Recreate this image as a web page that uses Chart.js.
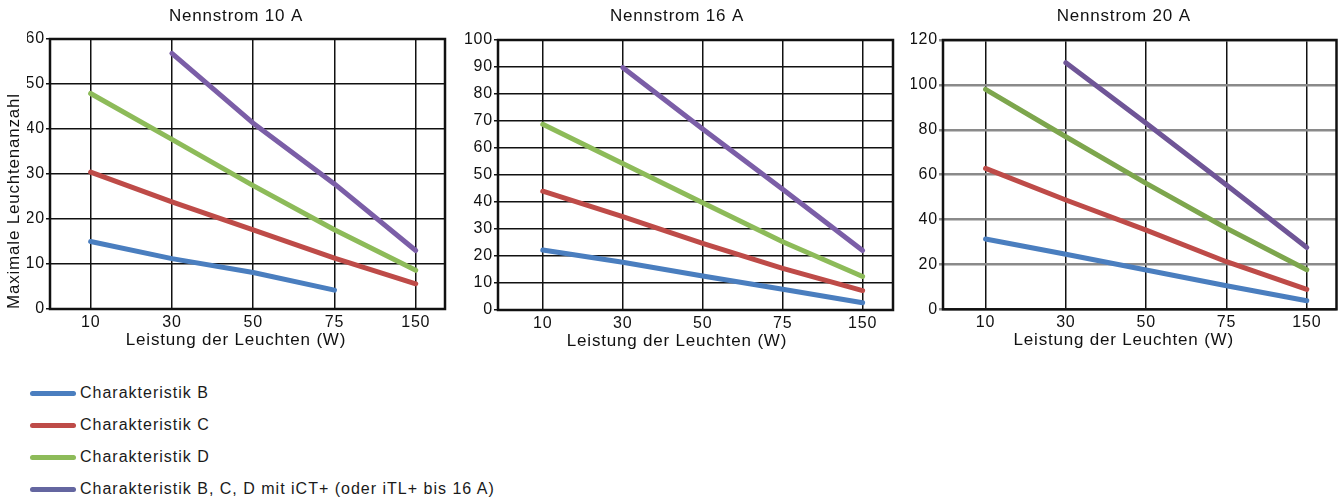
<!DOCTYPE html>
<html>
<head>
<meta charset="utf-8">
<script src="https://cdn.jsdelivr.net/npm/chart.js@4.4.1/dist/chart.umd.min.js"></script>
<style>
  body { margin: 0; background: #fff; width: 1338px; height: 500px; position: relative; overflow: hidden;
         font-family: "Liberation Sans", Arial, sans-serif; }
  canvas { position: absolute; top: 0; }
  #legend { position: absolute; left: 30px; top: 383px; }
  .row { display: flex; align-items: center; height: 20px; margin-bottom: 12px; color: #1a1a1a;
         font-size: 16px; letter-spacing: 1px; }
  .swatch { width: 46px; height: 5px; border-radius: 3px; margin-right: 4px; }
</style>
</head>
<body>
<canvas id="c10" width="460" height="360" style="left:0px"></canvas>
<canvas id="c16" width="460" height="360" style="left:440px"></canvas>
<canvas id="c20" width="458" height="360" style="left:880px"></canvas>
<div id="legend"></div>

<script>
// x categories (lamp power in W)
const watts = ['10', '30', '50', '75', '150'];
const wattIdx = [0, 1, 2, 3, 4];

const seriesNames = [
  'Charakteristik B',
  'Charakteristik C',
  'Charakteristik D',
  'Charakteristik B, C, D mit iCT+ (oder iTL+ bis 16 A)'
];

// Nennstrom 10 A
const a10_B = [15, 11.2, 8.1, 4.2, null];
const a10_C = [30.4, 23.8, 17.6, 11.3, 5.6];
const a10_D = [47.9, 37.7, 27.4, 17.6, 8.6];
const a10_iCT = [null, 56.8, 41.3, 27.8, 13];

// Nennstrom 16 A
const a16_B = [22.2, 17.7, 12.6, 7.7, 2.7];
const a16_C = [44, 34.6, 24.7, 15.4, 7.2];
const a16_D = [68.8, 54.3, 39.7, 25.3, 12.4];
const a16_iCT = [null, 89.8, 67, 44.7, 22];

// Nennstrom 20 A
const a20_B = [31.3, 24.5, 17.5, 10.5, 3.8];
const a20_C = [62.8, 48.7, 35.3, 21.2, 8.9];
const a20_D = [98, 76.9, 56.1, 36.1, 17.6];
const a20_iCT = [null, 109.9, 82.9, 55.4, 27.5];

const yTitle = 'Maximale Leuchtenanzahl';
const xTitle = 'Leistung der Leuchten (W)';

const lineColors = ['#4a7ebf', '#be4b48', '#8dbb59', '#7b5ea7'];
const lineColors20 = ['#4a7ebf', '#be4b48', '#7da64d', '#6f5597'];
const legendColors = ['#4a7ebf', '#be4b48', '#8dbb59', '#6466a0'];

const FONT = '"Liberation Sans", Arial, sans-serif';
Chart.defaults.font.family = FONT;
Chart.defaults.font.size = 16;
Chart.defaults.color = '#1a1a1a';

// wider tracking like the original artwork
const spacing = {
  id: 'spacing',
  beforeLayout(c) { c.ctx.letterSpacing = '0.8px'; },
  beforeDraw(c) { c.ctx.letterSpacing = '0.8px'; }
};

// black frame round the plot area
const frame = {
  id: 'frame',
  beforeDatasetsDraw(c) {
    const { left, top, right, bottom } = c.chartArea;
    const ctx = c.ctx;
    ctx.save();
    ctx.strokeStyle = '#111';
    ctx.lineWidth = 2.5;
    ctx.strokeRect(left, top, right - left, bottom - top);
    ctx.restore();
  }
};

function buildChart(id, cfg) {
  return new Chart(document.getElementById(id), {
    type: 'line',
    data: {
      datasets: cfg.values.map((vals, i) => ({
        label: seriesNames[i],
        data: vals.map((v, k) => ({ x: wattIdx[k], y: v })),
        borderColor: cfg.colors[i],
        borderWidth: 5,
        borderCapStyle: 'round',
        borderJoinStyle: 'round',
        pointRadius: 0,
        tension: 0,
        fill: false
      }))
    },
    options: {
      responsive: false,
      animation: false,
      layout: { padding: { left: cfg.padLeft, right: cfg.padRight, top: 0, bottom: cfg.padBottom } },
      plugins: {
        legend: { display: false },
        tooltip: { enabled: false },
        title: {
          display: true, text: cfg.title, color: '#111',
          font: { size: 17, weight: 'normal' },
          padding: { top: 6, bottom: cfg.titleGap }
        },
        subtitle: {
          display: true, position: 'bottom', text: xTitle, color: '#111',
          font: { size: 17, weight: 'normal' },
          padding: { top: 1, bottom: 4 }
        }
      },
      scales: {
        x: {
          type: 'linear',
          min: cfg.xMin, max: cfg.xMax,
          afterBuildTicks: s => { s.ticks = wattIdx.map(v => ({ value: v })); },
          afterFit: s => { s.height = 20; },
          ticks: { callback: v => watts[v], padding: 4, maxRotation: 0, autoSkip: false, color: '#111' },
          grid: { color: '#111', lineWidth: 1.5, drawTicks: false },
          border: { display: false }
        },
        y: {
          min: 0, max: cfg.yMax,
          afterFit: s => { s.width = cfg.yWidth; },
          ticks: { stepSize: cfg.yStep, padding: 1, color: '#111' },
          grid: { color: cfg.hGrid, lineWidth: cfg.hGridW, tickLength: 4 },
          border: { display: false },
          title: cfg.yTitle ? {
            display: true, text: cfg.yTitle, align: 'start', color: '#111',
            font: { size: 17, weight: 'normal' },
            padding: { top: -22.4, bottom: 0 }
          } : { display: false }
        }
      }
    },
    plugins: [spacing, frame]
  });
}

buildChart('c10', {
  title: 'Nennstrom 10 A', values: [a10_B, a10_C, a10_D, a10_iCT], colors: lineColors,
  yMax: 60, yStep: 10, yTitle: yTitle, hGrid: '#111', hGridW: 1.5,
  xMin: -0.5, xMax: 4.36, padLeft: 27, padRight: 15, yWidth: 23, padBottom: 5.6, titleGap: 12.6
});
buildChart('c16', {
  title: 'Nennstrom 16 A', values: [a16_B, a16_C, a16_D, a16_iCT], colors: lineColors,
  yMax: 100, yStep: 10, yTitle: null, hGrid: '#111', hGridW: 1.5,
  xMin: -0.56, xMax: 4.38, padLeft: 21, padRight: 7, yWidth: 37, padBottom: 4.6, titleGap: 13.6
});
buildChart('c20', {
  title: 'Nennstrom 20 A', values: [a20_B, a20_C, a20_D, a20_iCT], colors: lineColors20,
  yMax: 120, yStep: 20, yTitle: null, hGrid: '#8a8a8a', hGridW: 2.5,
  xMin: -0.53, xMax: 4.37, padLeft: 31, padRight: 1.5, yWidth: 32, padBottom: 5.3, titleGap: 13.6
});

// legend below the charts
const legend = document.getElementById('legend');
seriesNames.forEach((name, i) => {
  const row = document.createElement('div');
  row.className = 'row';
  const sw = document.createElement('span');
  sw.className = 'swatch';
  sw.style.background = legendColors[i];
  const txt = document.createElement('span');
  txt.textContent = name;
  row.appendChild(sw);
  row.appendChild(txt);
  legend.appendChild(row);
});
</script>
</body>
</html>
